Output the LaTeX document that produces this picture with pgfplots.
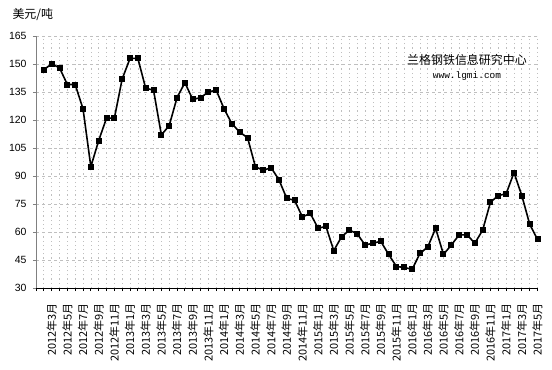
\documentclass[border=0pt]{standalone}
\usepackage{fontspec}
\setmainfont{Liberation Sans}
\setmonofont{Liberation Mono}
\newfontfamily\cjk{Noto Sans CJK SC}
\usepackage{pgfplots}
\pgfplotsset{compat=1.18}

\begin{document}
\begin{tikzpicture}
\path[use as bounding box] (-36bp,-82bp) rectangle (516bp,288bp);
\begin{axis}[
  at={(0,0)}, anchor=south west,
  scale only axis, width=501.5bp, height=252bp,
  xmin=-1, xmax=63, ymin=30, ymax=165,
  clip=false,
  axis x line*=bottom, axis y line*=left,
  x axis line style={black,-},
  y axis line style={gray,-},
  ytick={30,45,...,165},
  xtick={-1,1,...,63},
  minor xtick={0,2,...,62},
  xticklabels={,2012年3月,2012年5月,2012年7月,2012年9月,2012年11月,
    2013年1月,2013年3月,2013年5月,2013年7月,2013年9月,2013年11月,
    2014年1月,2014年3月,2014年5月,2014年7月,2014年9月,2014年11月,
    2015年1月,2015年3月,2015年5月,2015年7月,2015年9月,2015年11月,
    2016年1月,2016年3月,2016年5月,2016年7月,2016年9月,2016年11月,
    2017年1月,2017年3月,2017年5月},
  tick align=outside,
  major tick length=3bp, minor tick length=3bp,
  x tick style={black, line width=0.8bp},
  y tick style={gray, line width=0.8bp},
  xmajorgrids, xminorgrids, ymajorgrids,
  major x grid style={gray!50, line width=0.7bp, dash pattern=on 1.2bp off 3bp},
  minor x grid style={gray!50, line width=0.7bp, dash pattern=on 1.2bp off 3bp},
  major y grid style={gray!50, line width=0.7bp, dash pattern=on 3bp off 3bp},
  /pgf/number format/assume math mode=true,
  y tick label style={font=\fontsize{10.5}{12}\selectfont, xshift=-3bp},
  x tick label style={rotate=90, anchor=east, font=\cjk\fontsize{11}{11}\selectfont, xshift=-9bp},
]
\addplot[black, line width=1.6bp, mark=square*, mark size=2.2bp, mark options={solid}] coordinates {
(0,147) (1,150) (2,148) (3,139) (4,139) (5,126) (6,95) (7,109)
(8,121) (9,121) (10,142) (11,153) (12,153) (13,137) (14,136) (15,112)
(16,117) (17,132) (18,140) (19,131) (20,132) (21,135) (22,136) (23,126)
(24,118) (25,113.5) (26,110.5) (27,95) (28,93) (29,94.5) (30,88) (31,78)
(32,77) (33,68) (34,70) (35,62) (36,63) (37,50) (38,57.5) (39,61)
(40,59) (41,53) (42,54) (43,55) (44,48) (45,41.5) (46,41) (47,40)
(48,48.5) (49,52) (50,62) (51,48) (52,53) (53,58.5) (54,58.5) (55,54)
(56,61) (57,76) (58,79.5) (59,80.5) (60,91.8) (61,79.5) (62,64.2) (63,56)
};
\node[font=\cjk\fontsize{12}{12}\selectfont] at (axis cs:54,152.3) {兰格钢铁信息研究中心};
\node[font=\ttfamily\fontsize{9.5}{10}\selectfont] at (axis cs:54,143.8) {www.lgmi.com};
\end{axis}
\node[font=\cjk\fontsize{12}{12}\selectfont, anchor=west] at (-27bp,273bp) {美元/吨};
\end{tikzpicture}
\end{document}
